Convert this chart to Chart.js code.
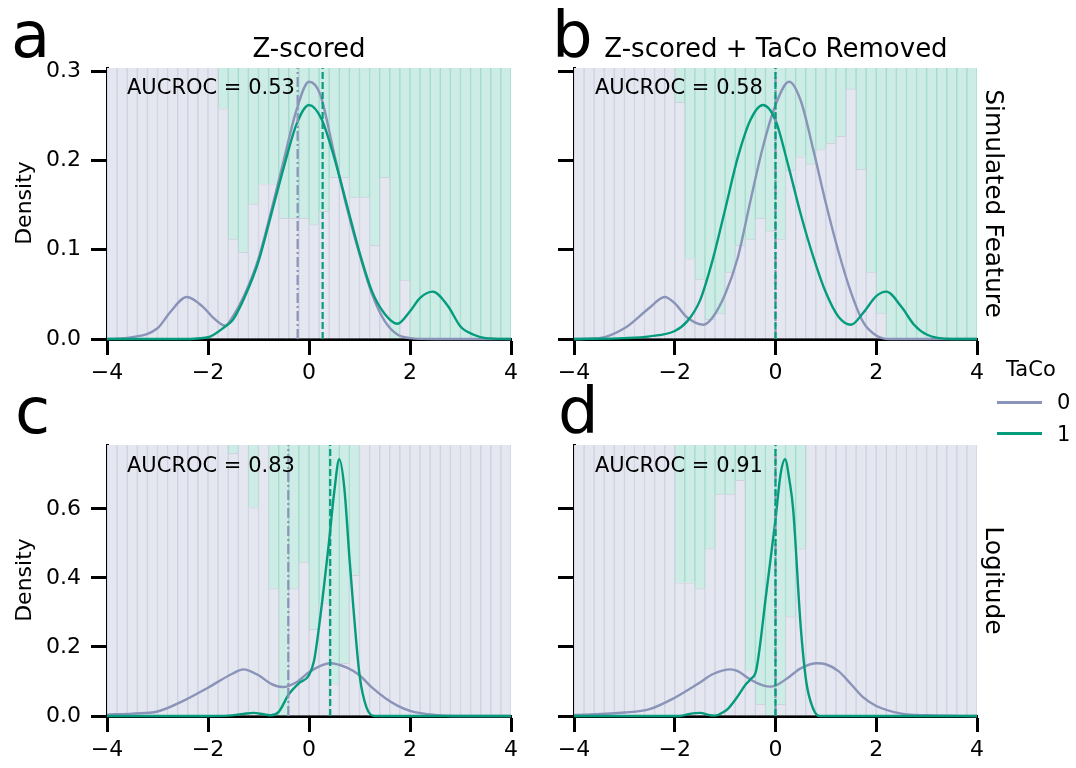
<!DOCTYPE html>
<html>
<head>
<meta charset="utf-8">
<script src="https://cdn.jsdelivr.net/npm/chart.js@4.4.1/dist/chart.umd.min.js"></script>
<style>
  body { margin: 0; background: #fff; }
  #page { position: relative; width: 1076px; height: 768px; overflow: hidden; font-family: 'DejaVu Sans', sans-serif; color: #000; }
  canvas { position: absolute; }
  .t { position: absolute; line-height: 1; white-space: nowrap; }
  .letter { font-size: 64px; }
  .title { font-size: 26px; width: 400px; text-align: center; }
  .auc { font-size: 21px; }
  .ylab { font-size: 22px; width: 200px; height: 22px; text-align: center; transform: rotate(-90deg); }
  .rlab { font-size: 25px; width: 300px; height: 25px; text-align: center; transform: rotate(90deg); }
  .key { position: absolute; left: 997px; width: 45px; height: 2.5px; }
</style>
</head>
<body>
<div id="page">
  <canvas id="cA" width="484" height="336" style="left:47px;top:48px"></canvas>
  <canvas id="cB" width="483" height="336" style="left:514px;top:48px"></canvas>
  <canvas id="cC" width="484" height="336" style="left:47px;top:425px"></canvas>
  <canvas id="cD" width="483" height="336" style="left:514px;top:425px"></canvas>

  <div class="t letter" style="left:11px;top:3px">a</div>
  <div class="t letter" style="left:552px;top:3px">b</div>
  <div class="t letter" style="left:15px;top:379px">c</div>
  <div class="t letter" style="left:558px;top:379px">d</div>

  <div class="t title" style="left:109px;top:35px">Z-scored</div>
  <div class="t title" style="left:576px;top:35px">Z-scored + TaCo Removed</div>

  <div class="t auc" style="left:127px;top:77px">AUCROC = 0.53</div>
  <div class="t auc" style="left:595px;top:77px">AUCROC = 0.58</div>
  <div class="t auc" style="left:127px;top:455px">AUCROC = 0.83</div>
  <div class="t auc" style="left:595px;top:455px">AUCROC = 0.91</div>

  <div class="t ylab" style="left:-76px;top:192px">Density</div>
  <div class="t ylab" style="left:-76px;top:569px">Density</div>

  <div class="t rlab" style="left:844px;top:191px">Simulated Feature</div>
  <div class="t rlab" style="left:844px;top:568px">Logitude</div>

  <div class="t" style="font-size:21px;left:1006px;top:359px">TaCo</div>
  <div class="key" style="top:401px;background:rgb(138,147,184)"></div>
  <div class="key" style="top:432px;background:rgb(5,155,125)"></div>
  <div class="t" style="font-size:21px;left:1057px;top:392px">0</div>
  <div class="t" style="font-size:21px;left:1057px;top:424px">1</div>
</div>

<script>
// histogram bins (width 0.2 from -4 to 4)
const binCenters = [-3.9, -3.7, -3.5, -3.3, -3.1, -2.9, -2.7, -2.5, -2.3, -2.1,
                    -1.9, -1.7, -1.5, -1.3, -1.1, -0.9, -0.7, -0.5, -0.3, -0.1,
                    0.1, 0.3, 0.5, 0.7, 0.9, 1.1, 1.3, 1.5, 1.7, 1.9,
                    2.1, 2.3, 2.5, 2.7, 2.9, 3.1, 3.3, 3.5, 3.7, 3.9];

// share of TaCo = 0 in each bin (the rest of the bin is TaCo = 1)
const grayShareA = [1, 1, 1, 1, 1, 1, 1, 1, 1, 1, 1, 0.258, 0.112, 0.097, 0.151, 0.173, 0.173, 0.135, 0.135, 0.135,
                    0.128, 0.143, 0.181, 0.181, 0.159, 0.159, 0.105, 0.181, 0, 0.066, 0, 0, 0, 0, 0, 0, 0, 0, 0, 0];
const grayShareB = [1, 1, 1, 1, 1, 1, 1, 1, 1, 1, 0.265, 0.090, 0.067, 0.022, 0.029, 0.075, 0.105, 0.112, 0.135, 0.121,
                    0.112, 0.189, 0.204, 0.196, 0.212, 0.219, 0.227, 0.280, 0.190, 0.075, 0.029, 0, 0, 0, 0, 0, 0, 0, 0, 0];
const grayShareC = [1, 1, 1, 1, 1, 1, 1, 1, 1, 1, 1, 1, 0.761, 1, 0.604, 1, 0.369, 0, 0.369, 0.446,
                    0.251, 0.328, 0.094, 0.153, 0.408, 1, 1, 1, 1, 1, 1, 1, 1, 1, 1, 1, 1, 1, 1, 1];
const grayShareD = [1, 1, 1, 1, 1, 1, 1, 1, 1, 1, 0.386, 0.386, 0.369, 0.485, 0.643, 0.643, 0.683, 0.132, 0.034, 0,
                    0.034, 0.288, 0.485, 1, 1, 1, 1, 1, 1, 1, 1, 1, 1, 1, 1, 1, 1, 1, 1, 1];

// density curves [x, density]
const kdeA0 = [[-4, 0], [-3.5, 0.002], [-3, 0.012], [-2.75, 0.030], [-2.42, 0.047], [-2.1, 0.036], [-1.9, 0.024],
               [-1.66, 0.015], [-1.5, 0.026], [-1.25, 0.053], [-1, 0.09], [-0.75, 0.143], [-0.5, 0.200], [-0.25, 0.256],
               [0, 0.288], [0.22, 0.274], [0.5, 0.207], [0.75, 0.147], [1, 0.095], [1.25, 0.050], [1.5, 0.020],
               [1.75, 0.005], [2, 0.001], [2.5, 0], [4, 0]];
const kdeA1 = [[-4, 0], [-2.5, 0], [-2, 0.002], [-1.66, 0.014], [-1.5, 0.022], [-1.25, 0.050], [-1, 0.087],
               [-0.75, 0.139], [-0.5, 0.192], [-0.25, 0.240], [0, 0.262], [0.25, 0.246], [0.5, 0.203], [0.75, 0.150],
               [1, 0.097], [1.25, 0.053], [1.5, 0.028], [1.75, 0.017], [2, 0.031], [2.2, 0.046], [2.45, 0.053],
               [2.75, 0.037], [3, 0.014], [3.25, 0.005], [3.5, 0.001], [4, 0]];
const kdeB0 = [[-4, 0], [-3.5, 0.001], [-3, 0.012], [-2.5, 0.035], [-2.2, 0.047], [-2, 0.040], [-1.75, 0.024],
               [-1.43, 0.016], [-1.25, 0.024], [-1, 0.050], [-0.75, 0.091], [-0.5, 0.154], [-0.25, 0.215], [0, 0.262],
               [0.27, 0.288], [0.5, 0.267], [0.75, 0.212], [1, 0.152], [1.25, 0.098], [1.5, 0.052], [1.75, 0.018],
               [2, 0.004], [2.25, 0], [4, 0]];
const kdeB1 = [[-4, 0], [-3, 0.001], [-2.5, 0.003], [-2, 0.009], [-1.75, 0.020], [-1.5, 0.043], [-1.25, 0.088],
               [-1, 0.145], [-0.75, 0.203], [-0.5, 0.245], [-0.25, 0.262], [0, 0.245], [0.25, 0.195], [0.5, 0.140],
               [0.75, 0.092], [1, 0.052], [1.25, 0.025], [1.5, 0.016], [1.75, 0.030], [2, 0.048], [2.2, 0.053],
               [2.5, 0.036], [2.75, 0.016], [3, 0.005], [3.5, 0], [4, 0]];
const kdeC0 = [[-4, 0.004], [-3.5, 0.007], [-3, 0.013], [-2.5, 0.043], [-2, 0.082], [-1.5, 0.124], [-1.3, 0.135],
               [-1, 0.118], [-0.75, 0.093], [-0.52, 0.084], [-0.25, 0.098], [0, 0.127], [0.25, 0.147], [0.42, 0.153],
               [0.75, 0.140], [1, 0.118], [1.25, 0.082], [1.5, 0.053], [1.75, 0.030], [2, 0.015], [2.5, 0.003],
               [3, 0], [4, 0]];
const kdeC1 = [[-4, 0], [-2, 0], [-1.6, 0.001], [-1.3, 0.006], [-1.1, 0.009], [-0.9, 0.005], [-0.75, 0.002],
               [-0.6, 0.012], [-0.4, 0.063], [-0.2, 0.095], [0, 0.118], [0.1, 0.16], [0.2, 0.26], [0.3, 0.38],
               [0.4, 0.51], [0.5, 0.65], [0.6, 0.744], [0.7, 0.66], [0.8, 0.46], [0.87, 0.33], [1, 0.12],
               [1.14, 0.024], [1.3, 0], [4, 0]];
const kdeD0 = [[-4, 0.003], [-3, 0.010], [-2.5, 0.020], [-2, 0.053], [-1.5, 0.097], [-1.25, 0.121], [-0.89, 0.135],
               [-0.75, 0.130], [-0.5, 0.106], [-0.25, 0.089], [-0.1, 0.085], [0, 0.088], [0.25, 0.111], [0.5, 0.138],
               [0.82, 0.153], [1, 0.150], [1.25, 0.130], [1.5, 0.092], [1.75, 0.053], [2, 0.029], [2.5, 0.007],
               [3, 0.002], [4, 0]];
const kdeD1 = [[-4, 0], [-1.9, 0], [-1.7, 0.006], [-1.5, 0.009], [-1.3, 0.002], [-1.2, 0.001], [-1.05, 0.01],
               [-0.95, 0.02], [-0.77, 0.053], [-0.6, 0.09], [-0.5, 0.106], [-0.38, 0.135], [-0.18, 0.36], [0, 0.57],
               [0.1, 0.70], [0.19, 0.744], [0.28, 0.68], [0.35, 0.6], [0.5, 0.26], [0.61, 0.10], [0.74, 0.024],
               [0.87, 0], [4, 0]];

// group centre lines [TaCo 0, TaCo 1]
const centerA = [-0.225, 0.27];
const centerB = [0, 0];
const centerC = [-0.41, 0.42];
const centerD = [0, 0];

const xTicks = [-4, -2, 0, 2, 4];
const yTicksTop = [0, 0.1, 0.2, 0.3];
const yTicksBottom = [0, 0.2, 0.4, 0.6];

const GRAY = 'rgb(138,147,184)';
const GREEN = 'rgb(5,155,125)';

Chart.defaults.font.family = "'DejaVu Sans', sans-serif";
Chart.defaults.color = '#000';

function makePanel(id, share, kde0, kde1, centers, yMax, yTicks, showLabels) {
    const grayBars = binCenters.map((c, i) => ({ x: c, y: share[i] }));
    const greenBars = binCenters.map((c, i) => ({ x: c, y: 1 - share[i] })); // fill: both shares add up to 1
    const curve = pts => pts.map(p => ({ x: p[0], y: p[1] }));
    const vline = x => [{ x: x, y: 0 }, { x: x, y: yMax }];
    const lineClip = { left: 0, top: 0, right: 0, bottom: 3 };

    return new Chart(document.getElementById(id), {
        type: 'bar',
        data: {
            datasets: [
                { type: 'line', data: vline(centers[1]), borderColor: GREEN, borderWidth: 2.2, borderDash: [7, 3],
                  pointRadius: 0, stack: 'v1', order: 0 },
                { type: 'line', data: vline(centers[0]), borderColor: GRAY, borderWidth: 2.2, borderDash: [10, 3, 2, 3],
                  pointRadius: 0, stack: 'v0', order: 1 },
                { type: 'line', data: curve(kde1), borderColor: GREEN, borderWidth: 2.4, pointRadius: 0,
                  cubicInterpolationMode: 'monotone', clip: lineClip, stack: 'k1', order: 2 },
                { type: 'line', data: curve(kde0), borderColor: GRAY, borderWidth: 2.4, pointRadius: 0,
                  cubicInterpolationMode: 'monotone', clip: lineClip, stack: 'k0', order: 3 },
                { data: grayBars, backgroundColor: 'rgb(229,231,240)', borderColor: 'rgb(206,210,224)', borderWidth: 1,
                  stack: 'hist', order: 4 },
                { data: greenBars, backgroundColor: 'rgb(205,236,229)', borderColor: 'rgb(163,219,205)', borderWidth: 1,
                  stack: 'hist', order: 4 }
            ]
        },
        options: {
            responsive: false,
            animation: false,
            events: [],
            layout: { padding: { left: 0, top: 20, right: 20, bottom: 0 } },
            datasets: { bar: { barPercentage: 1, categoryPercentage: 1, borderSkipped: 'start' } },
            plugins: { legend: { display: false }, tooltip: { enabled: false } },
            scales: {
                x: {
                    type: 'linear', min: -4, max: 4, offset: false,
                    grid: { display: true, drawOnChartArea: false, offset: false, tickLength: 16, tickWidth: 3, tickColor: '#000' },
                    border: { display: true, color: '#000', width: 3 },
                    ticks: { font: { size: 22 }, padding: 5, maxRotation: 0, autoSkip: false,
                             callback: v => (v < 0 ? '\u2212' + Math.abs(v) : String(v)) },
                    afterBuildTicks: s => { s.ticks = xTicks.map(v => ({ value: v })); },
                    afterFit: s => { s.height = 45; s.paddingLeft = 0; s.paddingRight = 0; }
                },
                y: {
                    type: 'linear', min: 0, max: yMax,
                    grid: { display: true, drawOnChartArea: false, tickLength: 16, tickWidth: 3, tickColor: '#000' },
                    border: { display: true, color: '#000', width: 3 },
                    ticks: { display: showLabels, font: { size: 22 }, padding: 10, callback: v => v.toFixed(1) },
                    afterBuildTicks: s => { s.ticks = yTicks.map(v => ({ value: v })); },
                    afterFit: s => { s.width = 60; s.paddingTop = 0; s.paddingBottom = 0; }
                }
            }
        }
    });
}

makePanel('cA', grayShareA, kdeA0, kdeA1, centerA, 0.3034, yTicksTop, true);
makePanel('cB', grayShareB, kdeB0, kdeB1, centerB, 0.3034, yTicksTop, false);
makePanel('cC', grayShareC, kdeC0, kdeC1, centerC, 0.7855, yTicksBottom, true);
makePanel('cD', grayShareD, kdeD0, kdeD1, centerD, 0.7855, yTicksBottom, false);
</script>
</body>
</html>
